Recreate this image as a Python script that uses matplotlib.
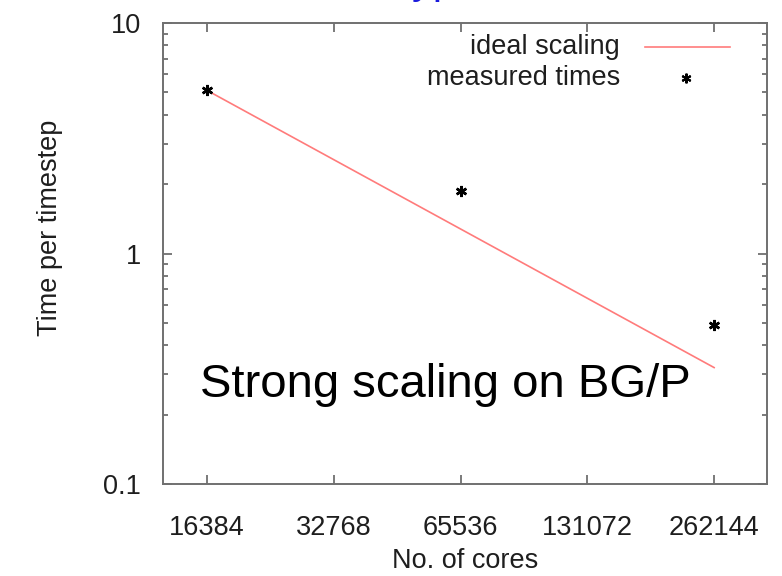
"""
Strong scaling plot (time per timestep vs. number of cores), gnuplot look.
"""

import matplotlib
matplotlib.use("Agg")
import matplotlib.pyplot as plt
from matplotlib.lines import Line2D
from matplotlib.ticker import FixedLocator, FixedFormatter, LogLocator, NullFormatter

plt.rcParams["font.family"] = ["Liberation Sans", "DejaVu Sans"]

# data
cores = [16384, 65536, 262144]
measured_times = [5.1, 1.87, 0.49]
ideal_cores = [16384, 262144]
ideal_times = [5.1, 0.32]
xtick_values = [16384, 32768, 65536, 131072, 262144]
xtick_labels = ["16384", "32768", "65536", "131072", "262144"]
ytick_values = [0.1, 1, 10]
ytick_labels = ["0.1", "1", "10"]

frame_color = "#707070"
line_color = "#ff7b7b"
text_color = "#1e1e1e"
fs = 19.5
star = (6, 2, 0)   # gnuplot-like asterisk

fig = plt.figure(figsize=(7.82, 5.76), dpi=100)
ax = fig.add_axes([0.2084, 0.1597, 0.7724, 0.8003])

ax.plot(ideal_cores, ideal_times, color=line_color, lw=1.2)
ax.plot(cores, measured_times, ls="none", marker=star, ms=8, color="black",
        markeredgewidth=1.8)

ax.set_xscale("log", base=2)
ax.set_yscale("log")
ax.set_xlim(12870, 350000)
ax.set_ylim(0.1, 10)

ax.xaxis.set_major_locator(FixedLocator(xtick_values))
ax.xaxis.set_major_formatter(FixedFormatter(xtick_labels))
ax.xaxis.set_minor_locator(FixedLocator([]))
ax.yaxis.set_major_locator(FixedLocator(ytick_values))
ax.yaxis.set_major_formatter(FixedFormatter(ytick_labels))
ax.yaxis.set_minor_locator(LogLocator(base=10, subs=range(2, 10)))
ax.yaxis.set_minor_formatter(NullFormatter())

ax.tick_params(which="both", direction="in", top=True, right=True,
               color=frame_color, width=1.3)
ax.tick_params(which="major", length=6.5, labelsize=fs)
ax.tick_params(which="minor", length=3.6)
ax.tick_params(axis="x", which="major", pad=22)
ax.tick_params(axis="y", which="major", pad=16)
ax.tick_params(axis="both", labelcolor=text_color)

for sp in ax.spines.values():
    sp.set_color(frame_color)
    sp.set_linewidth(1.4)

ax.set_xlabel("No. of cores", fontsize=fs, color=text_color)
ax.set_ylabel("Time per timestep", fontsize=fs, color=text_color)
ax.xaxis.set_label_coords(0.5, -0.138)
ax.yaxis.set_label_coords(-0.166, 0.555)

# gnuplot-style key: text right-aligned, sample on the right
ax.text(0.757, 0.948, "ideal scaling", transform=ax.transAxes, ha="right",
        va="center", fontsize=fs, color=text_color)
ax.text(0.757, 0.881, "measured times", transform=ax.transAxes, ha="right",
        va="center", fontsize=fs, color=text_color)
ax.add_line(Line2D([0.798, 0.939], [0.948, 0.948], transform=ax.transAxes,
                   color=line_color, lw=1.2))
ax.add_line(Line2D([0.866], [0.881], transform=ax.transAxes, ls="none",
                   marker=star, ms=7, color="black", markeredgewidth=1.5))

ax.text(0.467, 0.215, "Strong scaling on BG/P", transform=ax.transAxes,
        ha="center", va="center", fontsize=34, color="black")

# slide title, cut off at the top edge as in the source image
fig.text(0.5, 1.012, "Prototype", ha="center", va="baseline", fontsize=30,
         color="#1a1adc")

fig.savefig("out.png", dpi=100)
